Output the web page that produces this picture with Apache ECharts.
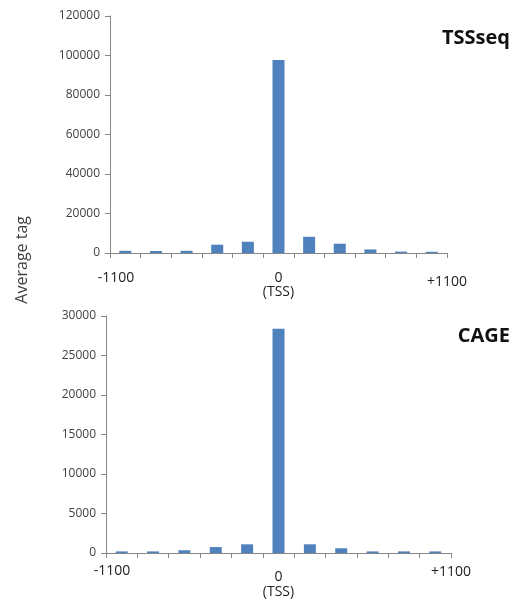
<!DOCTYPE html>
<html>
<head>
<meta charset="utf-8">
<script src="https://cdn.jsdelivr.net/npm/echarts@6/dist/echarts.min.js"></script>
<style>
  html, body { margin: 0; padding: 0; background: #fff; }
  #chart { width: 527px; height: 601px; }
</style>
</head>
<body>
<div id="chart"></div>
<script>
// bins from -1100 to +1100 around TSS (11 bins of 200 bp)
const bins = ['b1', 'b2', 'b3', 'b4', 'b5', 'b6', 'b7', 'b8', 'b9', 'b10', 'b11'];
const tssseqValues = [1100, 1000, 1100, 4200, 5700, 97700, 8200, 4700, 1800, 700, 600];
const cageValues = [200, 200, 350, 750, 1100, 28400, 1100, 600, 200, 200, 200];
const positionTicks = [-1100, 0, 1100];

const BAR = '#4f81bd';
const AXIS = '#868686';
const TEXT = '#404040';
const FONT = '"Open Sans", sans-serif';

function posLabel(v) {
    if (v === positionTicks[1]) return '{z|0}\n{t|(TSS)}';
    if (v === positionTicks[0]) return '{l|' + v + '}';
    return '{r|+' + v + '}';
}

function catAxis(grid) {
    return {
        type: 'category', data: bins, gridIndex: grid,
        axisLine: { onZero: false, lineStyle: { color: AXIS, width: 1 } },
        axisTick: { show: true, interval: 0, length: 5, lineStyle: { color: AXIS } },
        axisLabel: { show: false },
    };
}

function posAxis(grid, margin, rich) {
    return {
        type: 'value', gridIndex: grid,
        min: positionTicks[0], max: positionTicks[2], interval: positionTicks[2],
        position: 'bottom',
        axisLine: { show: false, onZero: false }, axisTick: { show: false }, splitLine: { show: false },
        axisLabel: {
            color: '#222', fontFamily: FONT, fontSize: 14, margin: margin,
            formatter: posLabel, showMinLabel: true, showMaxLabel: true,
            rich: rich,
        },
    };
}

function valAxis(grid, max, interval) {
    return {
        type: 'value', gridIndex: grid, min: 0, max: max, interval: interval,
        axisLine: { show: true, onZero: false, lineStyle: { color: AXIS } },
        axisTick: { show: true, length: 5, lineStyle: { color: AXIS } },
        splitLine: { show: false },
        axisLabel: { color: TEXT, fontFamily: FONT, fontSize: 12, margin: 10, formatter: v => String(v) },
    };
}

const chart = echarts.init(document.getElementById('chart'), null, { renderer: 'canvas' });
chart.setOption({
    backgroundColor: '#fff',
    animation: false,
    textStyle: { fontFamily: FONT },
    title: [
        { text: 'TSSseq', right: 12, top: 23, textStyle: { fontSize: 20, fontWeight: 'bold', color: '#111', fontFamily: FONT } },
        { text: 'CAGE', right: 12, top: 321, textStyle: { fontSize: 20, fontWeight: 'bold', color: '#111', fontFamily: FONT } },
    ],
    grid: [
        { left: 110, right: 80, top: 16, height: 237, outerBoundsMode: 'none' },
        { left: 106, right: 76, top: 316, height: 237, outerBoundsMode: 'none' },
    ],
    xAxis: [
        catAxis(0),
        catAxis(1),
        posAxis(0, 17, {
            l: { fontSize: 14, color: '#222', lineHeight: 16, padding: [0, 0, 0, 12] },
            r: { fontSize: 14, color: '#222', lineHeight: 24 },
            z: { fontSize: 14, color: '#222', lineHeight: 16 },
            t: { fontSize: 14, color: '#222', lineHeight: 12 },
        }),
        posAxis(1, 10, {
            l: { fontSize: 14, color: '#222', lineHeight: 16, padding: [0, 0, 0, 12] },
            r: { fontSize: 14, color: '#222', lineHeight: 18 },
            z: { fontSize: 14, color: '#222', lineHeight: 28 },
            t: { fontSize: 14, color: '#222', lineHeight: 2 },
        }),
    ],
    yAxis: [
        valAxis(0, 120000, 20000),
        valAxis(1, 30000, 5000),
    ],
    graphic: [{
        type: 'text', left: 14, top: 216, rotation: Math.PI / 2,
        style: { text: 'Average tag', fill: '#404040', font: '16px "Open Sans", sans-serif' },
    }],
    series: [
        { name: 'TSSseq', type: 'bar', xAxisIndex: 0, yAxisIndex: 0, data: tssseqValues, barWidth: 12, itemStyle: { color: BAR } },
        { name: 'CAGE', type: 'bar', xAxisIndex: 1, yAxisIndex: 1, data: cageValues, barWidth: 12, itemStyle: { color: BAR } },
    ],
});
window.addEventListener('resize', () => chart.resize());
</script>
</body>
</html>
